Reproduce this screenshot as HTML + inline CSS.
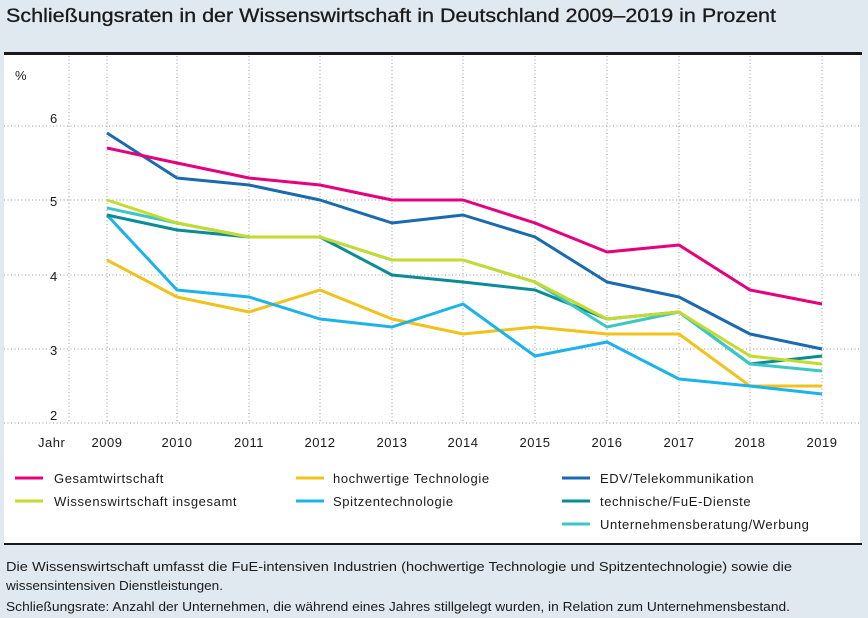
<!DOCTYPE html>
<html><head><meta charset="utf-8"><style>
body{margin:0;background:#e1e9f0;}
svg{display:block;font-family:"Liberation Sans",sans-serif;}
</style></head><body>
<svg width="868" height="618" viewBox="0 0 868 618" xmlns="http://www.w3.org/2000/svg">
<rect width="868" height="618" fill="#e1e9f0"/>
<text x="6" y="22" font-size="19" fill="#1a1a1a" stroke="#1a1a1a" stroke-width="0.3" textLength="770" lengthAdjust="spacingAndGlyphs">Schließungsraten in der Wissenswirtschaft in Deutschland 2009–2019 in Prozent</text>
<rect x="4" y="53" width="856" height="492" fill="#fff"/>
<rect x="4" y="52" width="858" height="3" fill="#1a1a1a"/>
<rect x="4" y="543" width="858" height="2" fill="#1a1a1a"/>
<g stroke="#999" stroke-width="1" stroke-dasharray="1,2.5">
<line x1="69" y1="56" x2="69" y2="423"/>
<line x1="107" y1="56" x2="107" y2="423"/><line x1="177" y1="56" x2="177" y2="423"/><line x1="249" y1="56" x2="249" y2="423"/><line x1="320" y1="56" x2="320" y2="423"/><line x1="392" y1="56" x2="392" y2="423"/><line x1="463" y1="56" x2="463" y2="423"/><line x1="535" y1="56" x2="535" y2="423"/><line x1="607" y1="56" x2="607" y2="423"/><line x1="679" y1="56" x2="679" y2="423"/><line x1="750" y1="56" x2="750" y2="423"/><line x1="822" y1="56" x2="822" y2="423"/>
<line x1="4" y1="126" x2="860" y2="126"/><line x1="4" y1="200" x2="860" y2="200"/><line x1="4" y1="275" x2="860" y2="275"/><line x1="4" y1="349" x2="860" y2="349"/><line x1="4" y1="423" x2="860" y2="423"/>
</g>
<g font-size="13" fill="#1a1a1a" letter-spacing="0.5">
<text x="15" y="80">%</text>
<text x="50" y="123">6</text><text x="50" y="206">5</text><text x="50" y="281">4</text><text x="50" y="355">3</text><text x="50" y="420">2</text>
<text x="38" y="447">Jahr</text>
<g text-anchor="middle"><text x="107" y="447">2009</text><text x="177" y="447">2010</text><text x="249" y="447">2011</text><text x="320" y="447">2012</text><text x="392" y="447">2013</text><text x="463" y="447">2014</text><text x="535" y="447">2015</text><text x="607" y="447">2016</text><text x="679" y="447">2017</text><text x="750" y="447">2018</text><text x="822" y="447">2019</text></g>
</g>
<g fill="none" stroke-width="3" stroke-linejoin="round">
<polyline stroke="#f0c21a" points="107,260 177,297 249,312 320,290 392,319 463,334 535,327 607,334 679,334 750,386 822,386"/>
<polyline stroke="#1cb3ea" points="107,215 177,290 249,297 320,319 392,327 463,304 535,356 607,342 679,379 750,386 822,394"/>
<polyline stroke="#0a8c96" points="107,215 177,230 249,237 320,237 392,275 463,282 535,290 607,319 679,312 750,364 822,356"/>
<polyline stroke="#3cc6c6" points="107,208 177,223 249,237 320,237 392,260 463,260 535,282 607,327 679,312 750,364 822,371"/>
<polyline stroke="#c5da2e" points="107,200 177,223 249,237 320,237 392,260 463,260 535,282 607,319 679,312 750,356 822,364"/>
<polyline stroke="#1a6ab0" points="107,133 177,178 249,185 320,200 392,223 463,215 535,237 607,282 679,297 750,334 822,349"/>
<polyline stroke="#e5007d" points="107,148 177,163 249,178 320,185 392,200 463,200 535,223 607,252 679,245 750,290 822,304"/>
</g>
<g stroke-width="3">
<line x1="15" y1="478" x2="43" y2="478" stroke="#e5007d"/>
<line x1="15" y1="501" x2="43" y2="501" stroke="#c5da2e"/>
<line x1="296" y1="478" x2="324" y2="478" stroke="#f0c21a"/>
<line x1="296" y1="501" x2="324" y2="501" stroke="#1cb3ea"/>
<line x1="562" y1="478" x2="590" y2="478" stroke="#1a6ab0"/>
<line x1="562" y1="501" x2="590" y2="501" stroke="#0a8c96"/>
<line x1="562" y1="524" x2="590" y2="524" stroke="#3cc6c6"/>
</g>
<g font-size="13" fill="#1a1a1a" letter-spacing="0.6">
<text x="54" y="483">Gesamtwirtschaft</text>
<text x="54" y="506">Wissenswirtschaft insgesamt</text>
<text x="333" y="483">hochwertige Technologie</text>
<text x="333" y="506">Spitzentechnologie</text>
<text x="600" y="483">EDV/Telekommunikation</text>
<text x="600" y="506">technische/FuE-Dienste</text>
<text x="600" y="529">Unternehmensberatung/Werbung</text>
</g>
<g font-size="13" fill="#1a1a1a">
<text x="6" y="571" textLength="786" lengthAdjust="spacingAndGlyphs">Die Wissenswirtschaft umfasst die FuE-intensiven Industrien (hochwertige Technologie und Spitzentechnologie) sowie die</text>
<text x="6" y="590" textLength="217" lengthAdjust="spacingAndGlyphs">wissensintensiven Dienstleistungen.</text>
<text x="6" y="611" textLength="784" lengthAdjust="spacingAndGlyphs">Schließungsrate: Anzahl der Unternehmen, die während eines Jahres stillgelegt wurden, in Relation zum Unternehmensbestand.</text>
</g>
</svg>
</body></html>
